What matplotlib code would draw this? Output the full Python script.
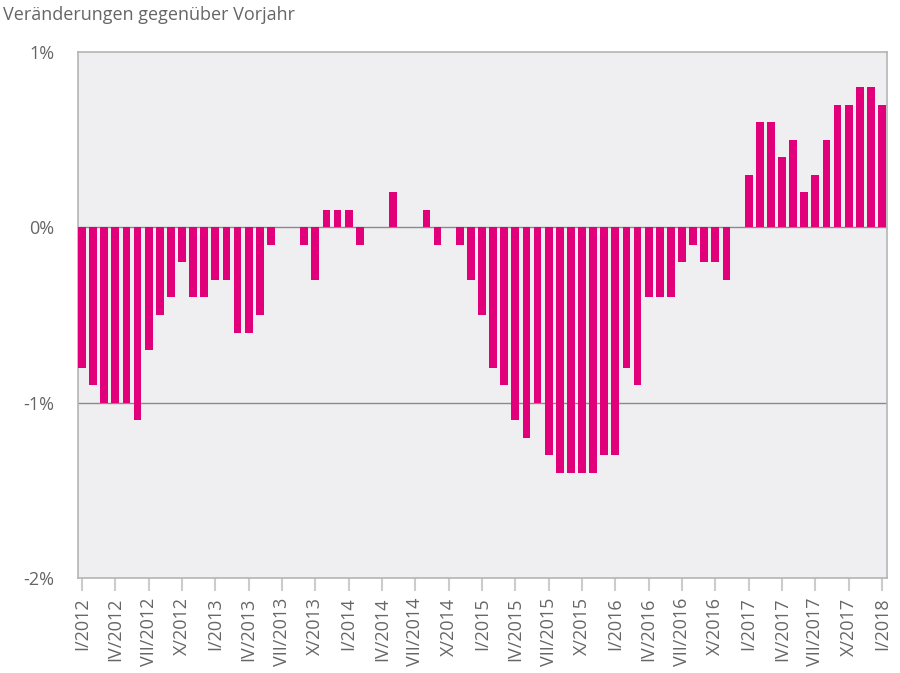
import matplotlib
matplotlib.use("Agg")
import matplotlib.pyplot as plt
import numpy as np

plt.rcParams['font.family'] = ['Open Sans', 'DejaVu Sans']

# monthly change vs previous year, I/2012 .. I/2018
values = [-0.8, -0.9, -1.0, -1.0, -1.0, -1.1, -0.7, -0.5, -0.4, -0.2, -0.4, -0.4,   # 2012
          -0.3, -0.3, -0.6, -0.6, -0.5, -0.1, 0.0, 0.0, -0.1, -0.3, 0.1, 0.1,        # 2013
          0.1, -0.1, 0.0, 0.0, 0.2, 0.0, 0.0, 0.1, -0.1, 0.0, -0.1, -0.3,            # 2014
          -0.5, -0.8, -0.9, -1.1, -1.2, -1.0, -1.3, -1.4, -1.4, -1.4, -1.4, -1.3,    # 2015
          -1.3, -0.8, -0.9, -0.4, -0.4, -0.4, -0.2, -0.1, -0.2, -0.2, -0.3, 0.0,     # 2016
          0.3, 0.6, 0.6, 0.4, 0.5, 0.2, 0.3, 0.5, 0.7, 0.7, 0.8, 0.8,                # 2017
          0.7]                                                                        # 2018
roman = ['I', 'IV', 'VII', 'X']
years = [2012, 2013, 2014, 2015, 2016, 2017, 2018]
tick_labels = []
for yr in years:
    for r in roman:
        tick_labels.append(f"{r}/{yr}")
tick_labels = tick_labels[:25]
y_ticks = [1, 0, -1, -2]
y_labels = ['1%', '0%', '-1%', '-2%']

magenta = '#e2007a'
grey = '#666666'

fig = plt.figure(figsize=(9, 6.73), dpi=100)
ax = fig.add_axes([78 / 900, 1 - 578 / 673, (887 - 78) / 900, (578 - 52) / 673])
ax.set_facecolor('#efeef1')

x = np.arange(len(values))
ax.bar(x, values, width=0.7, color=magenta, zorder=3)

ax.axhline(0, color='#8a8a8a', lw=1, zorder=2)
ax.axhline(-1, color='#8a8a8a', lw=1, zorder=2)

ax.set_ylim(-2, 1)
ax.set_xlim(-0.36, 72.45)
ax.set_yticks(y_ticks)
ax.set_yticklabels(y_labels)
ax.set_xticks(np.arange(0, len(values), 3))
ax.set_xticklabels(tick_labels, rotation=90)

ax.tick_params(axis='y', length=0, pad=17, labelsize=13, labelcolor=grey)
ax.tick_params(axis='x', length=9, width=1.5, color='#cccccc', pad=5,
               labelsize=13, labelcolor=grey)
for s in ax.spines.values():
    s.set_color('#b5b5b5')
    s.set_linewidth(1.2)

fig.text(3 / 900, 1 - 15 / 673, 'Veränderungen gegenüber Vorjahr', fontsize=13,
         color=grey, va='center', ha='left')

fig.savefig('out.png', dpi=100)
